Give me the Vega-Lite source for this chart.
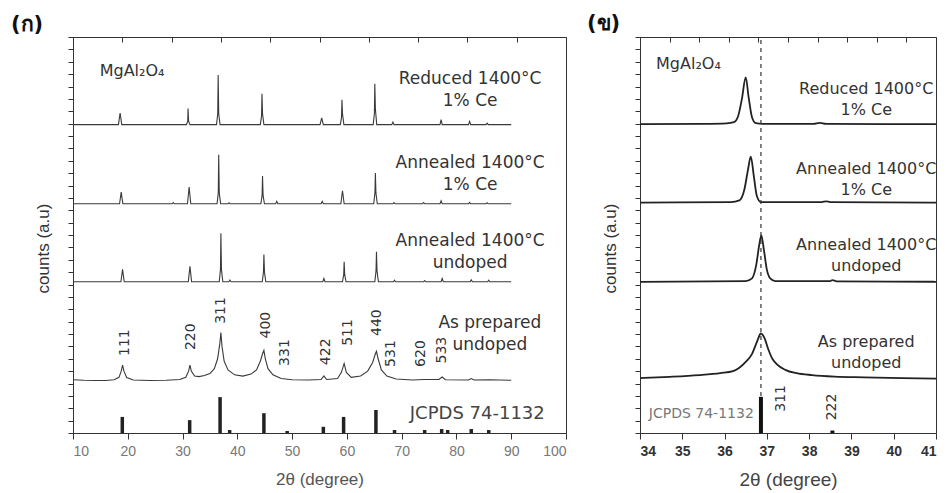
{
  "$schema": "https://vega.github.io/schema/vega-lite/v6.json",
  "padding": {"left": 10, "top": 12, "right": 5, "bottom": 5},
  "spacing": 19,
  "config": {
    "view": {"stroke": "#333", "strokeWidth": 1},
    "font": "Liberation Sans",
    "axis": {"domainColor": "#333", "tickColor": "#333", "grid": false},
    "axisY": {"labels": false, "tickSize": 5, "tickCount": 32, "titleFontSize": 17, "titleFontWeight": "normal", "titleColor": "#333", "titlePadding": 15, "titleY": 211}
  },
  "datasets": {
    "left": [
      {"s":"r","x":10,"y":12.46},{"s":"r","x":18.3,"y":12.46},{"s":"r","x":18.6,"y":12.93},{"s":"r","x":18.9,"y":12.46},
      {"s":"r","x":30.7,"y":12.46},{"s":"r","x":30.95,"y":12.6},{"s":"r","x":31.0,"y":13.11},{"s":"r","x":31.1,"y":12.6},{"s":"r","x":31.35,"y":12.46},
      {"s":"r","x":36.2,"y":12.46},{"s":"r","x":36.42,"y":12.9},{"s":"r","x":36.5,"y":14.46},{"s":"r","x":36.6,"y":12.9},{"s":"r","x":36.85,"y":12.46},
      {"s":"r","x":44.2,"y":12.46},{"s":"r","x":44.42,"y":12.8},{"s":"r","x":44.5,"y":13.71},{"s":"r","x":44.6,"y":12.9},{"s":"r","x":44.85,"y":12.46},
      {"s":"r","x":55.1,"y":12.46},{"s":"r","x":55.4,"y":12.73},{"s":"r","x":55.7,"y":12.46},
      {"s":"r","x":58.8,"y":12.46},{"s":"r","x":59.02,"y":12.75},{"s":"r","x":59.1,"y":13.46},{"s":"r","x":59.2,"y":12.9},{"s":"r","x":59.45,"y":12.46},
      {"s":"r","x":64.8,"y":12.46},{"s":"r","x":65.02,"y":12.9},{"s":"r","x":65.1,"y":14.11},{"s":"r","x":65.2,"y":13.1},{"s":"r","x":65.45,"y":12.46},
      {"s":"r","x":68.2,"y":12.46},{"s":"r","x":68.4,"y":12.56},{"s":"r","x":68.6,"y":12.46},
      {"s":"r","x":77.0,"y":12.46},{"s":"r","x":77.2,"y":12.66},{"s":"r","x":77.4,"y":12.46},
      {"s":"r","x":82.2,"y":12.46},{"s":"r","x":82.4,"y":12.59},{"s":"r","x":82.6,"y":12.46},
      {"s":"r","x":85.4,"y":12.46},{"s":"r","x":85.6,"y":12.52},{"s":"r","x":85.8,"y":12.46},{"s":"r","x":90,"y":12.46},

      {"s":"a1","x":10,"y":9.26},{"s":"a1","x":18.5,"y":9.26},{"s":"a1","x":18.8,"y":9.73},{"s":"a1","x":19.1,"y":9.26},
      {"s":"a1","x":28.1,"y":9.26},{"s":"a1","x":28.3,"y":9.31},{"s":"a1","x":28.5,"y":9.26},
      {"s":"a1","x":30.9,"y":9.26},{"s":"a1","x":31.2,"y":9.94},{"s":"a1","x":31.5,"y":9.26},
      {"s":"a1","x":36.3,"y":9.26},{"s":"a1","x":36.52,"y":9.7},{"s":"a1","x":36.6,"y":11.24},{"s":"a1","x":36.7,"y":9.7},{"s":"a1","x":36.95,"y":9.26},
      {"s":"a1","x":38.3,"y":9.26},{"s":"a1","x":38.5,"y":9.3},{"s":"a1","x":38.7,"y":9.26},
      {"s":"a1","x":44.3,"y":9.26},{"s":"a1","x":44.52,"y":9.6},{"s":"a1","x":44.6,"y":10.38},{"s":"a1","x":44.7,"y":9.6},{"s":"a1","x":44.95,"y":9.26},
      {"s":"a1","x":47.0,"y":9.26},{"s":"a1","x":47.2,"y":9.36},{"s":"a1","x":47.4,"y":9.26},
      {"s":"a1","x":55.3,"y":9.26},{"s":"a1","x":55.5,"y":9.36},{"s":"a1","x":55.7,"y":9.26},
      {"s":"a1","x":58.9,"y":9.26},{"s":"a1","x":59.2,"y":9.79},{"s":"a1","x":59.5,"y":9.26},
      {"s":"a1","x":64.9,"y":9.26},{"s":"a1","x":65.12,"y":9.7},{"s":"a1","x":65.2,"y":10.5},{"s":"a1","x":65.3,"y":9.7},{"s":"a1","x":65.55,"y":9.26},
      {"s":"a1","x":68.4,"y":9.26},{"s":"a1","x":68.6,"y":9.31},{"s":"a1","x":68.8,"y":9.26},
      {"s":"a1","x":73.8,"y":9.26},{"s":"a1","x":74.0,"y":9.31},{"s":"a1","x":74.2,"y":9.26},
      {"s":"a1","x":77.0,"y":9.26},{"s":"a1","x":77.2,"y":9.38},{"s":"a1","x":77.4,"y":9.26},
      {"s":"a1","x":82.2,"y":9.26},{"s":"a1","x":82.4,"y":9.32},{"s":"a1","x":82.6,"y":9.26},
      {"s":"a1","x":85.4,"y":9.26},{"s":"a1","x":85.6,"y":9.3},{"s":"a1","x":85.8,"y":9.26},{"s":"a1","x":90,"y":9.26},

      {"s":"a0","x":10,"y":6.11},{"s":"a0","x":18.75,"y":6.11},{"s":"a0","x":19.05,"y":6.61},{"s":"a0","x":19.35,"y":6.11},
      {"s":"a0","x":31.05,"y":6.11},{"s":"a0","x":31.35,"y":6.74},{"s":"a0","x":31.65,"y":6.11},
      {"s":"a0","x":36.7,"y":6.11},{"s":"a0","x":36.92,"y":6.6},{"s":"a0","x":37.0,"y":8.07},{"s":"a0","x":37.1,"y":6.6},{"s":"a0","x":37.35,"y":6.11},
      {"s":"a0","x":38.45,"y":6.11},{"s":"a0","x":38.65,"y":6.18},{"s":"a0","x":38.85,"y":6.11},
      {"s":"a0","x":44.55,"y":6.11},{"s":"a0","x":44.77,"y":6.5},{"s":"a0","x":44.85,"y":7.21},{"s":"a0","x":44.95,"y":6.5},{"s":"a0","x":45.2,"y":6.11},
      {"s":"a0","x":55.6,"y":6.11},{"s":"a0","x":55.8,"y":6.24},{"s":"a0","x":56.0,"y":6.11},
      {"s":"a0","x":59.2,"y":6.11},{"s":"a0","x":59.42,"y":6.4},{"s":"a0","x":59.5,"y":6.92},{"s":"a0","x":59.6,"y":6.4},{"s":"a0","x":59.85,"y":6.11},
      {"s":"a0","x":65.1,"y":6.11},{"s":"a0","x":65.32,"y":6.55},{"s":"a0","x":65.4,"y":7.32},{"s":"a0","x":65.5,"y":6.55},{"s":"a0","x":65.75,"y":6.11},
      {"s":"a0","x":68.5,"y":6.11},{"s":"a0","x":68.7,"y":6.17},{"s":"a0","x":68.9,"y":6.11},
      {"s":"a0","x":74.0,"y":6.11},{"s":"a0","x":74.2,"y":6.16},{"s":"a0","x":74.4,"y":6.11},
      {"s":"a0","x":77.2,"y":6.11},{"s":"a0","x":77.4,"y":6.24},{"s":"a0","x":77.6,"y":6.11},
      {"s":"a0","x":82.5,"y":6.11},{"s":"a0","x":82.7,"y":6.19},{"s":"a0","x":82.9,"y":6.11},
      {"s":"a0","x":85.7,"y":6.11},{"s":"a0","x":85.9,"y":6.17},{"s":"a0","x":86.1,"y":6.11},{"s":"a0","x":90,"y":6.11},

      {"s":"ap","x":10,"y":2.15},{"s":"ap","x":12,"y":2.13},{"s":"ap","x":14,"y":2.12},{"s":"ap","x":16,"y":2.12},{"s":"ap","x":17.5,"y":2.15},
      {"s":"ap","x":18.4,"y":2.25},{"s":"ap","x":18.8,"y":2.5},{"s":"ap","x":19.05,"y":2.74},{"s":"ap","x":19.3,"y":2.5},{"s":"ap","x":19.8,"y":2.24},
      {"s":"ap","x":21,"y":2.14},{"s":"ap","x":24,"y":2.12},{"s":"ap","x":27,"y":2.13},{"s":"ap","x":29.5,"y":2.16},{"s":"ap","x":30.6,"y":2.25},
      {"s":"ap","x":31.1,"y":2.5},{"s":"ap","x":31.35,"y":2.74},{"s":"ap","x":31.6,"y":2.5},{"s":"ap","x":32.2,"y":2.3},{"s":"ap","x":33,"y":2.28},
      {"s":"ap","x":34,"y":2.32},{"s":"ap","x":35,"y":2.4},{"s":"ap","x":35.8,"y":2.6},{"s":"ap","x":36.4,"y":3.0},{"s":"ap","x":36.8,"y":3.6},
      {"s":"ap","x":37.0,"y":4.06},{"s":"ap","x":37.2,"y":3.5},{"s":"ap","x":37.6,"y":2.9},{"s":"ap","x":38.3,"y":2.55},{"s":"ap","x":39.5,"y":2.35},
      {"s":"ap","x":41,"y":2.3},{"s":"ap","x":42.5,"y":2.38},{"s":"ap","x":43.5,"y":2.55},{"s":"ap","x":44.2,"y":2.9},{"s":"ap","x":44.6,"y":3.2},
      {"s":"ap","x":44.85,"y":3.34},{"s":"ap","x":45.1,"y":3.0},{"s":"ap","x":45.6,"y":2.6},{"s":"ap","x":46.5,"y":2.35},{"s":"ap","x":48,"y":2.2},
      {"s":"ap","x":50,"y":2.15},{"s":"ap","x":53,"y":2.14},{"s":"ap","x":55.3,"y":2.16},{"s":"ap","x":55.8,"y":2.31},{"s":"ap","x":56.3,"y":2.16},
      {"s":"ap","x":58.3,"y":2.2},{"s":"ap","x":59.0,"y":2.45},{"s":"ap","x":59.5,"y":2.81},{"s":"ap","x":59.9,"y":2.45},{"s":"ap","x":60.8,"y":2.25},
      {"s":"ap","x":62.5,"y":2.3},{"s":"ap","x":63.8,"y":2.5},{"s":"ap","x":64.7,"y":2.85},{"s":"ap","x":65.2,"y":3.2},{"s":"ap","x":65.4,"y":3.3},
      {"s":"ap","x":65.7,"y":3.0},{"s":"ap","x":66.3,"y":2.55},{"s":"ap","x":67.3,"y":2.3},{"s":"ap","x":69,"y":2.18},{"s":"ap","x":72,"y":2.14},
      {"s":"ap","x":74,"y":2.16},{"s":"ap","x":76.8,"y":2.16},{"s":"ap","x":77.4,"y":2.26},{"s":"ap","x":78,"y":2.15},{"s":"ap","x":82.2,"y":2.14},
      {"s":"ap","x":82.7,"y":2.2},{"s":"ap","x":83.2,"y":2.14},{"s":"ap","x":86,"y":2.15},{"s":"ap","x":90,"y":2.13}
    ],
    "jcpdsL": [
      {"x":19.0,"h":0.65},{"x":31.3,"h":0.52},{"x":36.85,"h":1.45},{"x":38.6,"h":0.12},{"x":44.85,"h":0.8},
      {"x":49.1,"h":0.08},{"x":55.7,"h":0.25},{"x":59.4,"h":0.65},{"x":65.3,"h":0.93},{"x":68.7,"h":0.12},
      {"x":74.2,"h":0.12},{"x":77.3,"h":0.16},{"x":78.4,"h":0.12},{"x":82.7,"h":0.16},{"x":85.9,"h":0.12}
    ],
    "hklL": [
      {"x":19.5,"y":3.65,"t":"111"},{"x":31.6,"y":3.89,"t":"220"},{"x":37.1,"y":4.95,"t":"311"},
      {"x":45.2,"y":4.36,"t":"400"},{"x":48.7,"y":3.25,"t":"331"},{"x":56.1,"y":3.28,"t":"422"},
      {"x":60.2,"y":4.06,"t":"511"},{"x":65.5,"y":4.46,"t":"440"},{"x":68.1,"y":3.21,"t":"531"},
      {"x":73.6,"y":3.21,"t":"620"},{"x":77.3,"y":3.35,"t":"533"}
    ],
    "labL": [
      {"x":82.5,"y":13.85,"t":"Reduced 1400°C\n1% Ce"},
      {"x":82.5,"y":10.45,"t":"Annealed 1400°C\n1% Ce"},
      {"x":82.5,"y":7.32,"t":"Annealed 1400°C\nundoped"},
      {"x":86.1,"y":3.98,"t":"As prepared\nundoped"}
    ],
    "right": [
      {"s":"r","x":34,"y":12.48},{"s":"r","x":35.5,"y":12.49},{"s":"r","x":36.05,"y":12.51},{"s":"r","x":36.22,"y":12.56},{"s":"r","x":36.32,"y":12.8},
      {"s":"r","x":36.41,"y":13.5},{"s":"r","x":36.5,"y":14.37},{"s":"r","x":36.57,"y":13.55},{"s":"r","x":36.65,"y":12.75},{"s":"r","x":36.74,"y":12.52},
      {"s":"r","x":36.9,"y":12.49},{"s":"r","x":38.1,"y":12.49},{"s":"r","x":38.25,"y":12.53},{"s":"r","x":38.4,"y":12.49},{"s":"r","x":41,"y":12.48},

      {"s":"a1","x":34,"y":9.31},{"s":"a1","x":36.15,"y":9.33},{"s":"a1","x":36.35,"y":9.4},{"s":"a1","x":36.47,"y":9.85},{"s":"a1","x":36.55,"y":10.6},
      {"s":"a1","x":36.62,"y":11.17},{"s":"a1","x":36.69,"y":10.4},{"s":"a1","x":36.76,"y":9.6},{"s":"a1","x":36.86,"y":9.33},{"s":"a1","x":38.3,"y":9.33},
      {"s":"a1","x":38.4,"y":9.36},{"s":"a1","x":38.5,"y":9.33},{"s":"a1","x":41,"y":9.31},

      {"s":"a0","x":34,"y":6.11},{"s":"a0","x":36.5,"y":6.14},{"s":"a0","x":36.65,"y":6.25},{"s":"a0","x":36.75,"y":6.8},{"s":"a0","x":36.82,"y":7.6},
      {"s":"a0","x":36.87,"y":7.98},{"s":"a0","x":36.93,"y":7.4},{"s":"a0","x":37.0,"y":6.6},{"s":"a0","x":37.08,"y":6.25},{"s":"a0","x":37.2,"y":6.14},
      {"s":"a0","x":38.5,"y":6.14},{"s":"a0","x":38.55,"y":6.18},{"s":"a0","x":38.65,"y":6.13},{"s":"a0","x":41,"y":6.11},

      {"s":"ap","x":34,"y":2.22},{"s":"ap","x":34.7,"y":2.27},{"s":"ap","x":35.4,"y":2.34},{"s":"ap","x":35.9,"y":2.42},{"s":"ap","x":36.2,"y":2.5},
      {"s":"ap","x":36.5,"y":2.87},{"s":"ap","x":36.65,"y":3.2},{"s":"ap","x":36.77,"y":3.7},{"s":"ap","x":36.86,"y":4.02},{"s":"ap","x":36.94,"y":3.85},
      {"s":"ap","x":37.03,"y":3.4},{"s":"ap","x":37.13,"y":3.0},{"s":"ap","x":37.45,"y":2.54},{"s":"ap","x":37.7,"y":2.42},{"s":"ap","x":38.07,"y":2.34},
      {"s":"ap","x":38.6,"y":2.28},{"s":"ap","x":39.3,"y":2.25},{"s":"ap","x":40.2,"y":2.22},{"s":"ap","x":41,"y":2.2}
    ],
    "jcpdsR": [{"x":36.86,"h":1.46},{"x":38.55,"h":0.1}],
    "hklR": [{"x":37.33,"y":1.4,"t":"311"},{"x":38.55,"y":1.05,"t":"222"}],
    "labR": [
      {"x":39.35,"y":13.46,"t":"Reduced 1400°C\n1% Ce"},
      {"x":39.35,"y":10.23,"t":"Annealed 1400°C\n1% Ce"},
      {"x":39.35,"y":7.19,"t":"Annealed 1400°C\nundoped"},
      {"x":39.35,"y":3.27,"t":"As prepared\nundoped"}
    ]
  },
  "hconcat": [
    {
      "width": 493,
      "height": 396,
      "title": {"text": "(ก)", "anchor": "start", "frame": "group", "dx": -62, "offset": 2, "fontSize": 21, "fontWeight": "bold", "color": "#111", "font": "DejaVu Sans"},
      "resolve": {"axis": {"x": "independent"}},
      "layer": [
        {
          "data": {"name": "left"},
          "mark": {"type": "line", "color": "#3a3a3a", "strokeWidth": 1.1},
          "encoding": {
            "x": {"field": "x", "type": "quantitative", "scale": {"domain": [10, 100]},
                  "axis": {"orient": "bottom", "values": [10,20,30,40,50,60,70,80,90,100], "title": "2θ (degree)", "tickSize": 6, "labelPadding": 5, "labelFontSize": 14, "labelColor": "#777", "titleFontSize": 17, "titleFontWeight": "normal", "titleColor": "#555", "titlePadding": 13}},
            "y": {"field": "y", "type": "quantitative", "scale": {"domain": [0, 16]}, "axis": {"title": "counts (a.u)"}},
            "detail": {"field": "s"}
          }
        },
        {
          "data": {"name": "jcpdsL"},
          "mark": {"type": "rule", "color": "#222", "strokeWidth": 3.5},
          "encoding": {
            "x": {"field": "x", "type": "quantitative", "scale": {"domain": [10, 100]},
                  "axis": {"orient": "top", "values": [10,19,28,37,46,55,64,73,82,91,100], "labels": false, "title": null, "tickSize": -5, "domain": false}},
            "y": {"field": "h", "type": "quantitative", "scale": {"domain": [0, 16]}, "axis": {"title": "counts (a.u)"}},
            "y2": {"datum": 0}
          }
        },
        {
          "data": {"name": "hklL"},
          "mark": {"type": "text", "angle": 270, "font": "DejaVu Sans", "fontSize": 14, "color": "#333", "align": "center", "baseline": "middle"},
          "encoding": {
            "x": {"field": "x", "type": "quantitative", "axis": null},
            "y": {"field": "y", "type": "quantitative", "axis": {"title": "counts (a.u)"}},
            "text": {"field": "t"}
          }
        },
        {
          "data": {"name": "labL"},
          "mark": {"type": "text", "font": "DejaVu Sans", "fontSize": 17, "color": "#333", "align": "center", "baseline": "middle", "lineBreak": "\n", "lineHeight": 22, "dy": -11},
          "encoding": {
            "x": {"field": "x", "type": "quantitative", "axis": null},
            "y": {"field": "y", "type": "quantitative", "axis": {"title": "counts (a.u)"}},
            "text": {"field": "t"}
          }
        },
        {
          "data": {"values": [{"x": 83.8, "y": 0.78, "t": "JCPDS 74-1132"}]},
          "mark": {"type": "text", "font": "DejaVu Sans", "fontSize": 18, "color": "#444", "align": "center", "baseline": "middle"},
          "encoding": {
            "x": {"field": "x", "type": "quantitative", "axis": null},
            "y": {"field": "y", "type": "quantitative", "axis": {"title": "counts (a.u)"}},
            "text": {"field": "t"}
          }
        },
        {
          "data": {"values": [{"x": 14.87, "y": 14.62, "t": "MgAl₂O₄"}]},
          "mark": {"type": "text", "font": "DejaVu Sans", "fontSize": 16, "color": "#333", "align": "left", "baseline": "middle"},
          "encoding": {
            "x": {"field": "x", "type": "quantitative", "axis": null},
            "y": {"field": "y", "type": "quantitative", "axis": {"title": "counts (a.u)"}},
            "text": {"field": "t"}
          }
        }
      ]
    },
    {
      "width": 296,
      "height": 396,
      "title": {"text": "(ข)", "anchor": "start", "frame": "group", "dx": -53, "offset": 2, "fontSize": 21, "fontWeight": "bold", "color": "#111", "font": "DejaVu Sans"},
      "resolve": {"axis": {"x": "independent"}},
      "layer": [
        {
          "data": {"name": "right"},
          "mark": {"type": "line", "color": "#222", "strokeWidth": 1.8, "interpolate": "monotone"},
          "encoding": {
            "x": {"field": "x", "type": "quantitative", "scale": {"domain": [34, 41]},
                  "axis": {"orient": "bottom", "values": [34,35,36,37,38,39,40,41], "title": "2θ (degree)", "tickSize": 6, "labelPadding": 5, "labelFontSize": 14, "labelFontWeight": "bold", "labelColor": "#333", "titleFontSize": 19, "titleFontWeight": "normal", "titleColor": "#444", "titlePadding": 12}},
            "y": {"field": "y", "type": "quantitative", "scale": {"domain": [0, 16]}, "axis": {"title": "counts (a.u)"}},
            "detail": {"field": "s"}
          }
        },
        {
          "data": {"name": "jcpdsR"},
          "mark": {"type": "rule", "color": "#111", "strokeWidth": 4},
          "encoding": {
            "x": {"field": "x", "type": "quantitative", "scale": {"domain": [34, 41]},
                  "axis": {"orient": "top", "values": [34,34.7,35.4,36.1,36.8,37.5,38.2,38.9,39.6,40.3,41], "labels": false, "title": null, "tickSize": -5, "domain": false}},
            "y": {"field": "h", "type": "quantitative", "scale": {"domain": [0, 16]}, "axis": {"title": "counts (a.u)"}},
            "y2": {"datum": 0}
          }
        },
        {
          "data": {"values": [{"x": 36.86, "lo": 1.5, "hi": 16}]},
          "mark": {"type": "rule", "color": "#333", "strokeWidth": 1.2, "strokeDash": [4, 4]},
          "encoding": {
            "x": {"field": "x", "type": "quantitative", "axis": null},
            "y": {"field": "lo", "type": "quantitative", "axis": {"title": "counts (a.u)"}},
            "y2": {"field": "hi"}
          }
        },
        {
          "data": {"name": "hklR"},
          "mark": {"type": "text", "angle": 270, "font": "DejaVu Sans", "fontSize": 14, "color": "#333", "align": "center", "baseline": "middle"},
          "encoding": {
            "x": {"field": "x", "type": "quantitative", "axis": null},
            "y": {"field": "y", "type": "quantitative", "axis": {"title": "counts (a.u)"}},
            "text": {"field": "t"}
          }
        },
        {
          "data": {"name": "labR"},
          "mark": {"type": "text", "font": "DejaVu Sans", "fontSize": 16, "color": "#333", "align": "center", "baseline": "middle", "lineBreak": "\n", "lineHeight": 21, "dy": -10.5},
          "encoding": {
            "x": {"field": "x", "type": "quantitative", "axis": null},
            "y": {"field": "y", "type": "quantitative", "axis": {"title": "counts (a.u)"}},
            "text": {"field": "t"}
          }
        },
        {
          "data": {"values": [{"x": 35.45, "y": 0.78, "t": "JCPDS 74-1132"}]},
          "mark": {"type": "text", "font": "DejaVu Sans", "fontSize": 14, "color": "#777", "align": "center", "baseline": "middle"},
          "encoding": {
            "x": {"field": "x", "type": "quantitative", "axis": null},
            "y": {"field": "y", "type": "quantitative", "axis": {"title": "counts (a.u)"}},
            "text": {"field": "t"}
          }
        },
        {
          "data": {"values": [{"x": 34.38, "y": 14.9, "t": "MgAl₂O₄"}]},
          "mark": {"type": "text", "font": "DejaVu Sans", "fontSize": 16, "color": "#333", "align": "left", "baseline": "middle"},
          "encoding": {
            "x": {"field": "x", "type": "quantitative", "axis": null},
            "y": {"field": "y", "type": "quantitative", "axis": {"title": "counts (a.u)"}},
            "text": {"field": "t"}
          }
        }
      ]
    }
  ]
}
